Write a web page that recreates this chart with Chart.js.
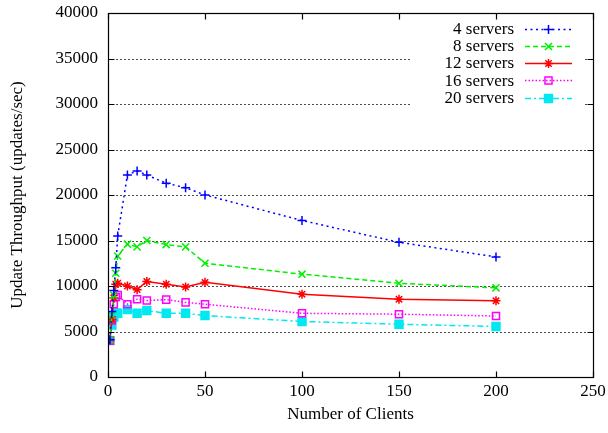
<!DOCTYPE html>
<html><head><meta charset="utf-8">
<script src="https://cdn.jsdelivr.net/npm/chart.js@4/dist/chart.umd.min.js"></script>
<style>html,body{margin:0;padding:0;background:#fff;}#wrap{width:608px;height:433px;}</style>
</head><body><div id="wrap"><canvas id="c" width="608" height="433"></canvas></div>
<script>
const clients = [1, 2, 3, 4, 5, 10, 15, 20, 30, 40, 50, 100, 150, 200];
const servers4  = [4100, 7200, 9500, 12000, 15500, 22200, 22650, 22200, 21300, 20800, 20000, 17200, 14800, 13200];
const servers8  = [4100, 6800, 9000, 11400, 13300, 14600, 14300, 15000, 14550, 14300, 12500, 11300, 10300, 9800];
const servers12 = [4100, 6300, 8700, 10200, 10300, 10000, 9600, 10500, 10200, 9900, 10400, 9100, 8550, 8370];
const servers16 = [4000, 6200, 8000, 8800, 9000, 8000, 8550, 8400, 8500, 8200, 8000, 7000, 6900, 6700];
const servers20 = [4000, 5700, 6600, 7000, 7000, 7400, 7000, 7300, 7000, 7000, 6750, 6100, 5800, 5550];
const seriesLabels = ['4 servers', '8 servers', '12 servers', '16 servers', '20 servers'];
const xTicks = [0, 50, 100, 150, 200, 250];
const yTicks = [0, 5000, 10000, 15000, 20000, 25000, 30000, 35000, 40000];
const xTitle = 'Number of Clients';
const yTitle = 'Update Throughput (updates/sec)';

const FONT = 'Liberation Serif, Times New Roman, serif';
const styles = [
  {color:'#0000ff', dash:[2,3.5], point:'cross', r:4.5, fill:false},
  {color:'#00ee00', dash:[5,3], point:'crossRot', r:5, fill:false},
  {color:'#ff0000', dash:[], point:'star', r:4.5, fill:false},
  {color:'#ff00ff', dash:[1.5,2], point:'rect', r:5, fill:false},
  {color:'#00e8f0', dash:[6,3,2,3], point:'rect', r:5.6, fill:true}
];
const seriesValues = [servers4, servers8, servers12, servers16, servers20];

const datasets = seriesValues.map((vals, i) => ({
  label: seriesLabels[i],
  data: clients.map((x, j) => ({x: x, y: vals[j]})),
  borderColor: styles[i].color,
  borderWidth: 1.5,
  borderDash: styles[i].dash,
  pointStyle: styles[i].point,
  pointRadius: styles[i].r,
  pointBorderWidth: 1.5,
  pointBorderColor: styles[i].color,
  pointBackgroundColor: styles[i].fill ? styles[i].color : 'rgba(0,0,0,0)',
  tension: 0,
  fill: false
}));

function drawMarker(ctx, style, r, x, y, color, filled) {
  ctx.save();
  ctx.setLineDash([]);
  ctx.strokeStyle = color; ctx.fillStyle = color; ctx.lineWidth = 1.5;
  ctx.beginPath();
  if (style === 'cross' || style === 'star') {
    ctx.moveTo(x, y - r); ctx.lineTo(x, y + r);
    ctx.moveTo(x - r, y); ctx.lineTo(x + r, y);
  }
  if (style === 'crossRot' || style === 'star') {
    const o = Math.SQRT1_2 * r;
    ctx.moveTo(x - o, y - o); ctx.lineTo(x + o, y + o);
    ctx.moveTo(x - o, y + o); ctx.lineTo(x + o, y - o);
  }
  if (style === 'rect') {
    const s = Math.SQRT1_2 * r;
    ctx.rect(x - s, y - s, 2 * s, 2 * s);
    if (filled) ctx.fill();
  }
  ctx.stroke();
  ctx.restore();
}

const framePlugin = {
  id: 'frame',
  beforeDatasetsDraw(chart) {
    const {ctx, chartArea: a, scales: {y}} = chart;
    ctx.save();
    ctx.strokeStyle = 'rgba(0,0,0,0.7)';
    ctx.lineWidth = 1;
    ctx.setLineDash([2, 2]);
    const gapL = a.right - 182, gapR = a.right - 8, gapB = a.top + 93;
    yTicks.forEach(v => {
      if (v === yTicks[0] || v === yTicks[yTicks.length - 1]) return;
      const py = Math.round(y.getPixelForValue(v)) + 0.5;
      ctx.beginPath();
      if (py < gapB) {
        ctx.moveTo(a.left, py); ctx.lineTo(gapL, py);
        ctx.moveTo(gapR, py); ctx.lineTo(a.right, py);
      } else {
        ctx.moveTo(a.left, py); ctx.lineTo(a.right, py);
      }
      ctx.stroke();
    });
    ctx.restore();
  },
  afterDatasetsDraw(chart) {
    const {ctx, chartArea: a, scales: {x, y}} = chart;
    ctx.save();
    ctx.setLineDash([]);
    ctx.strokeStyle = '#000';
    ctx.lineWidth = 1.2;
    const L = Math.round(a.left) + 0.5, R = Math.round(a.right) + 0.5;
    const T = Math.round(a.top) + 0.5, B = Math.round(a.bottom) + 0.5;
    ctx.strokeRect(L, T, R - L, B - T);
    const tl = 6;
    ctx.beginPath();
    yTicks.forEach(v => {
      const py = Math.round(y.getPixelForValue(v)) + 0.5;
      ctx.moveTo(L, py); ctx.lineTo(L + tl, py);
      ctx.moveTo(R, py); ctx.lineTo(R - tl, py);
    });
    xTicks.forEach(v => {
      const px = Math.round(x.getPixelForValue(v)) + 0.5;
      ctx.moveTo(px, B); ctx.lineTo(px, B - tl);
      ctx.moveTo(px, T); ctx.lineTo(px, T + tl);
    });
    ctx.stroke();
    // legend
    ctx.font = '17px ' + FONT;
    ctx.fillStyle = '#000';
    ctx.textAlign = 'right';
    ctx.textBaseline = 'middle';
    const textRight = a.right - 79, lineL = a.right - 68, lineR = a.right - 21;
    chart.data.datasets.forEach((ds, i) => {
      const ry = a.top + 15.5 + i * 17.25;
      ctx.fillStyle = '#000';
      ctx.fillText(ds.label, textRight, ry + 1);
      ctx.save();
      ctx.strokeStyle = ds.borderColor;
      ctx.lineWidth = ds.borderWidth;
      ctx.setLineDash(ds.borderDash);
      ctx.beginPath();
      ctx.moveTo(lineL, Math.round(ry) + 0.5); ctx.lineTo(lineR, Math.round(ry) + 0.5);
      ctx.stroke();
      ctx.restore();
      drawMarker(ctx, ds.pointStyle, ds.pointRadius, (lineL + lineR) / 2, Math.round(ry) + 0.5, ds.borderColor, styles[i].fill);
    });
    ctx.restore();
  }
};

new Chart(document.getElementById('c'), {
  type: 'line',
  data: {datasets},
  options: {
    responsive: false,
    devicePixelRatio: 1,
    animation: false,
    events: [],
    layout: {padding: {top: 13, right: 15, left: 0, bottom: 0}},
    plugins: {legend: {display: false}, tooltip: {enabled: false}},
    scales: {
      x: {
        type: 'linear', min: xTicks[0], max: xTicks[xTicks.length - 1],
        afterBuildTicks: s => { s.ticks = xTicks.map(v => ({value: v})); },
        afterFit: s => { s.height = 56; s.paddingLeft = 0; s.paddingRight = 0; },
        grid: {display: false, drawTicks: false, tickLength: 0},
        border: {display: false},
        ticks: {color: '#000', font: {family: FONT, size: 17}, padding: 4, maxRotation: 0, autoSkip: false, callback: v => String(v)},
        title: {display: true, text: xTitle, color: '#000', font: {family: FONT, size: 17}, padding: {top: 0, bottom: 8}}
      },
      y: {
        type: 'linear', min: yTicks[0], max: yTicks[yTicks.length - 1],
        afterBuildTicks: s => { s.ticks = yTicks.map(v => ({value: v})); },
        afterFit: s => { s.width = 108; s.paddingTop = 0; s.paddingBottom = 0; },
        grid: {display: false, drawTicks: false, tickLength: 0},
        border: {display: false},
        ticks: {color: '#000', font: {family: FONT, size: 17}, padding: 10, autoSkip: false, callback: v => String(v)},
        title: {display: true, text: yTitle, color: '#000', font: {family: FONT, size: 17}, padding: {top: 7, bottom: 0}}
      }
    }
  },
  plugins: [framePlugin]
});
</script>
</body></html>
